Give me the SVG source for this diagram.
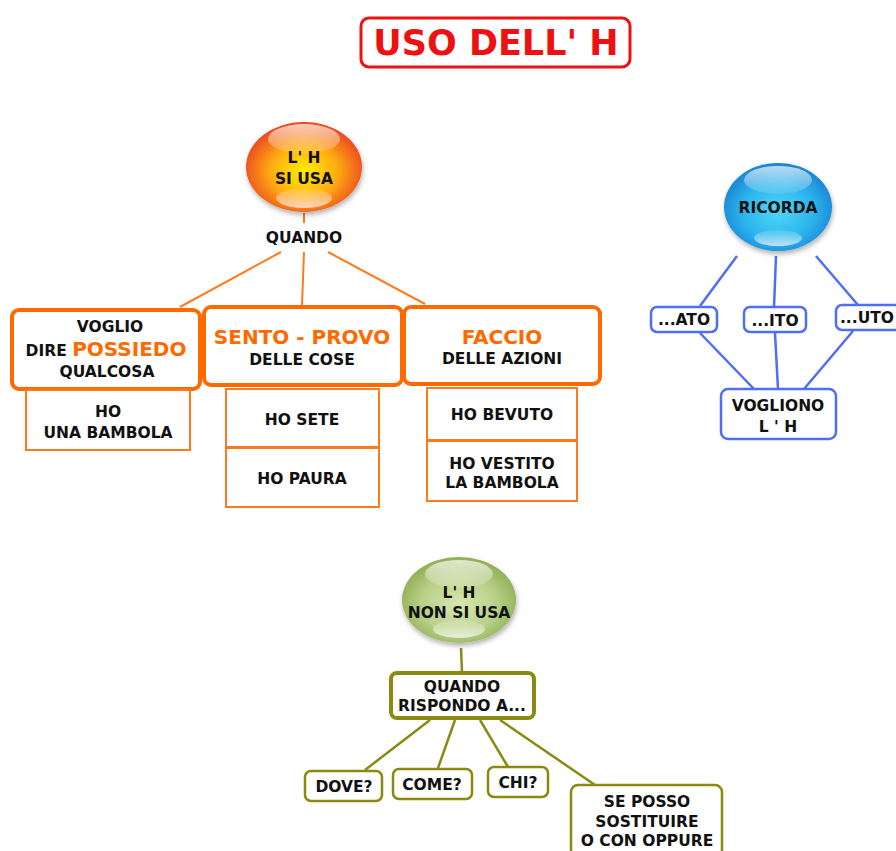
<svg xmlns="http://www.w3.org/2000/svg" width="896" height="851" viewBox="0 0 896 851">
<style>
text{font-family:"DejaVu Sans","Verdana",sans-serif;font-weight:bold;text-anchor:middle;fill:#111}
.t{font-size:15.5px}
.big{font-size:20px;fill:#ff6a00}
.ob{fill:#fff;stroke:#ff6a00;stroke-width:4}
.os{fill:#fff;stroke:#ff7a1a;stroke-width:2}
.bb{fill:#fff;stroke:#4d6ef5;stroke-width:2.5}
.gb{fill:#fff;stroke:#8a8a12;stroke-width:2.5}
.ol{stroke:#ff7a1a;stroke-width:2;fill:none}
.bl{stroke:#4d6ef5;stroke-width:2.5;fill:none}
.gl{stroke:#8a8a12;stroke-width:2.5;fill:none}
</style>
<defs>
<radialGradient id="gO" cx="0.5" cy="0.55" r="0.55">
<stop offset="0" stop-color="#ffee00"/><stop offset="0.5" stop-color="#ffb010"/><stop offset="1" stop-color="#ec4422"/>
</radialGradient>
<radialGradient id="gB" cx="0.5" cy="0.55" r="0.55">
<stop offset="0" stop-color="#4fd8f8"/><stop offset="0.6" stop-color="#2cb4ec"/><stop offset="1" stop-color="#1a84d4"/>
</radialGradient>
<radialGradient id="gG" cx="0.5" cy="0.55" r="0.55">
<stop offset="0" stop-color="#d8e8b0"/><stop offset="0.6" stop-color="#b8d088"/><stop offset="1" stop-color="#8fae52"/>
</radialGradient>
<linearGradient id="hiT" x1="0" y1="0" x2="0" y2="1">
<stop offset="0" stop-color="#fff" stop-opacity="0.7"/><stop offset="1" stop-color="#fff" stop-opacity="0.1"/>
</linearGradient>
<linearGradient id="hiB" x1="0" y1="0" x2="0" y2="1">
<stop offset="0" stop-color="#fff" stop-opacity="0.1"/><stop offset="1" stop-color="#fff" stop-opacity="0.7"/>
</linearGradient>
<filter id="sh" x="-20%" y="-20%" width="140%" height="150%">
<feDropShadow dx="1" dy="3" stdDeviation="2.5" flood-color="#000" flood-opacity="0.3"/>
</filter>
</defs>
<rect width="896" height="851" fill="#fff"/>

<g id="title">
<rect x="361" y="18" width="269" height="49" rx="8" fill="#fff" stroke="#ee1111" stroke-width="3"/>
<text x="496" y="55" style="font-size:35px;fill:#ee1111">USO DELL' H</text>
</g>

<g id="connectors">
<line class="ol" x1="304" y1="213" x2="304" y2="223"/>
<line class="ol" x1="281" y1="252" x2="180" y2="307"/>
<line class="ol" x1="304" y1="252" x2="302" y2="305"/>
<line class="ol" x1="328" y1="252" x2="425" y2="304"/>
<line class="bl" x1="737" y1="256" x2="700" y2="306"/>
<line class="bl" x1="776" y1="256" x2="774" y2="307"/>
<line class="bl" x1="816" y1="256" x2="858" y2="305"/>
<line class="bl" x1="700" y1="333" x2="754" y2="389"/>
<line class="bl" x1="775" y1="333" x2="778" y2="389"/>
<line class="bl" x1="853" y1="331" x2="804" y2="389"/>
<line class="gl" x1="461" y1="648" x2="462" y2="672"/>
<line class="gl" x1="430" y1="720" x2="365" y2="770"/>
<line class="gl" x1="455" y1="720" x2="438" y2="768"/>
<line class="gl" x1="480" y1="720" x2="508" y2="767"/>
<line class="gl" x1="500" y1="720" x2="595" y2="785"/>
</g>

<g id="si-usa">
<ellipse cx="304" cy="167" rx="58" ry="45" fill="url(#gO)" filter="url(#sh)"/>
<ellipse cx="304" cy="139" rx="36" ry="15" fill="url(#hiT)"/>
<ellipse cx="304" cy="198" rx="28" ry="10" fill="url(#hiB)"/>
<text class="t" x="304" y="163">L' H</text>
<text class="t" x="304" y="184">SI USA</text>
</g>
<g id="quando"><text class="t" x="304" y="243">QUANDO</text></g>

<g id="possiedo">
<rect class="ob" x="12" y="310" width="188" height="79" rx="7"/>
<text class="t" x="110" y="332">VOGLIO</text>
<text class="t" x="106" y="356"><tspan>DIRE </tspan><tspan style="font-size:20px;fill:#ff6a00">POSSIEDO</tspan></text>
<text class="t" x="107" y="377">QUALCOSA</text>
</g>
<g id="ho-bambola">
<rect class="os" x="26" y="390" width="164" height="60"/>
<text class="t" x="108" y="417">HO</text>
<text class="t" x="108" y="438">UNA BAMBOLA</text>
</g>

<g id="sento">
<rect class="ob" x="204" y="307" width="198" height="78" rx="7"/>
<text class="big" x="302" y="344">SENTO - PROVO</text>
<text class="t" x="302" y="365">DELLE COSE</text>
</g>
<g id="ho-sete">
<rect class="os" x="226" y="389" width="153" height="58"/>
<text class="t" x="302" y="425">HO SETE</text>
</g>
<g id="ho-paura">
<rect class="os" x="226" y="448" width="153" height="59"/>
<text class="t" x="302" y="484">HO PAURA</text>
</g>

<g id="faccio">
<rect class="ob" x="404" y="307" width="196" height="77" rx="7"/>
<text class="big" x="502" y="344">FACCIO</text>
<text class="t" x="502" y="364">DELLE AZIONI</text>
</g>
<g id="ho-bevuto">
<rect class="os" x="427" y="388" width="150" height="52"/>
<text class="t" x="502" y="420">HO BEVUTO</text>
</g>
<g id="ho-vestito">
<rect class="os" x="427" y="441" width="150" height="60"/>
<text class="t" x="502" y="469">HO VESTITO</text>
<text class="t" x="502" y="488">LA BAMBOLA</text>
</g>

<g id="ricorda">
<ellipse cx="778" cy="207" rx="54" ry="44" fill="url(#gB)" filter="url(#sh)"/>
<ellipse cx="778" cy="180" rx="34" ry="14" fill="url(#hiT)"/>
<ellipse cx="778" cy="238" rx="24" ry="8" fill="url(#hiB)"/>
<text class="t" x="778" y="213">RICORDA</text>
</g>
<g id="ato">
<rect class="bb" x="651" y="307" width="66" height="25" rx="6"/>
<text class="t" x="684" y="325">...ATO</text>
</g>
<g id="ito">
<rect class="bb" x="744" y="307" width="62" height="25" rx="6"/>
<text class="t" x="775" y="326">...ITO</text>
</g>
<g id="uto">
<rect class="bb" x="836" y="305" width="66" height="25" rx="6"/>
<text class="t" x="867" y="323">...UTO</text>
</g>
<g id="vogliono">
<rect class="bb" x="721" y="389" width="115" height="50" rx="7"/>
<text class="t" x="778" y="411">VOGLIONO</text>
<text class="t" x="778" y="432">L ' H</text>
</g>

<g id="non-si-usa">
<ellipse cx="459" cy="600" rx="57" ry="43" fill="url(#gG)" filter="url(#sh)"/>
<ellipse cx="459" cy="574" rx="34" ry="14" fill="url(#hiT)"/>
<ellipse cx="459" cy="629" rx="26" ry="9" fill="url(#hiB)"/>
<text class="t" x="459" y="598">L' H</text>
<text class="t" x="459" y="618">NON SI USA</text>
</g>
<g id="rispondo">
<rect x="391" y="673" width="143" height="45" rx="6" fill="#fff" stroke="#8a8a12" stroke-width="4"/>
<text class="t" x="462" y="692">QUANDO</text>
<text class="t" x="462" y="711">RISPONDO A...</text>
</g>
<g id="dove">
<rect class="gb" x="305" y="771" width="77" height="30" rx="6"/>
<text class="t" x="344" y="792">DOVE?</text>
</g>
<g id="come">
<rect class="gb" x="393" y="769" width="79" height="30" rx="6"/>
<text class="t" x="432" y="790">COME?</text>
</g>
<g id="chi">
<rect class="gb" x="488" y="767" width="60" height="30" rx="6"/>
<text class="t" x="518" y="788">CHI?</text>
</g>
<g id="sostituire">
<rect class="gb" x="571" y="785" width="151" height="72" rx="7"/>
<text class="t" x="647" y="807">SE POSSO</text>
<text class="t" x="647" y="827">SOSTITUIRE</text>
<text class="t" x="647" y="846">O CON OPPURE</text>
</g>
</svg>
